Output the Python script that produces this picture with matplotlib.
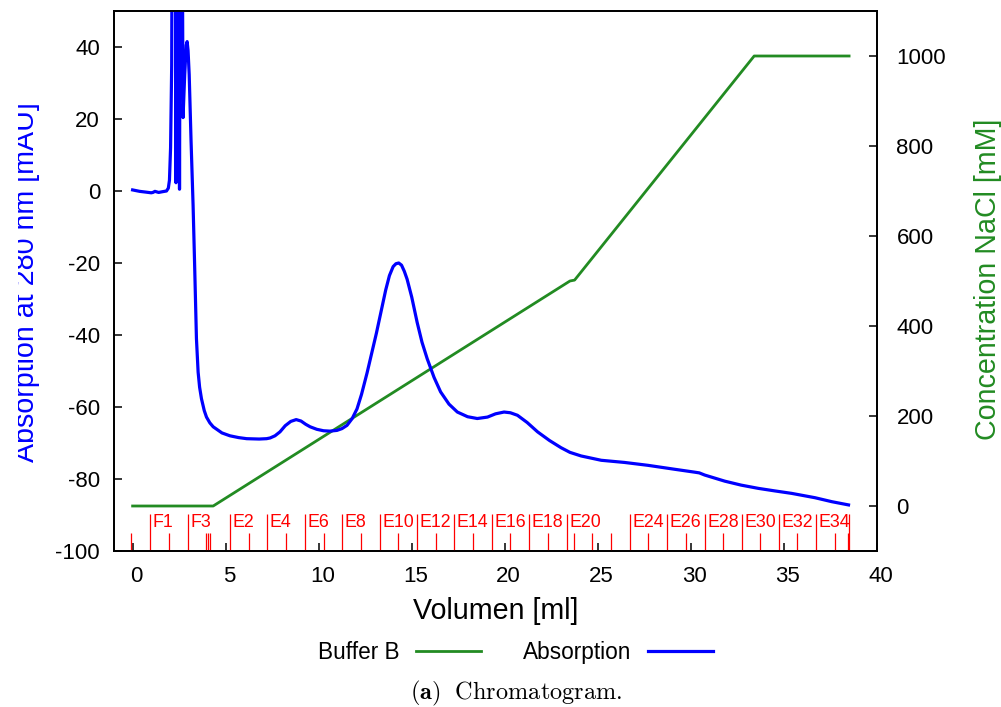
import matplotlib
matplotlib.use("Agg")
import matplotlib.pyplot as plt
from matplotlib.lines import Line2D
from matplotlib.transforms import Bbox, TransformedBbox, ScaledTranslation

plt.rcParams['font.family'] = 'Liberation Sans'
plt.rcParams['mathtext.fontset'] = 'cm'
plt.rcParams['axes.unicode_minus'] = False

# UV absorption trace (ml, mAU)
abs_x = [0, 0.38, 0.7, 1.0, 1.09, 1.2, 1.4, 1.6, 1.82, 1.92, 1.98, 2.04, 2.10, 2.14,
         2.28, 2.33, 2.38, 2.47, 2.52, 2.58, 2.64, 2.71, 2.80, 2.88, 2.93, 2.98,
         3.04, 3.14, 3.25, 3.33, 3.43, 3.52, 3.60, 3.70, 3.85, 3.97, 4.15, 4.33,
         4.8, 5.23, 5.7, 6.13, 6.8, 7.2, 7.39, 7.65, 7.92, 8.2, 8.5, 8.79, 9.05,
         9.3, 9.54, 9.9, 10.26, 10.6, 10.98, 11.25, 11.52, 11.8, 12.06, 12.3,
         12.6, 12.85, 13.1, 13.35, 13.6, 13.8, 14.0, 14.15, 14.3, 14.45, 14.6,
         14.75, 15.0, 15.29, 15.55, 15.83, 16.2, 16.55, 17.0, 17.45, 18.0, 18.52,
         19.07, 19.5, 19.96, 20.3, 20.68, 21.2, 21.76, 22.4, 23.02, 23.5, 24.1,
         25.18, 26.43, 27.69, 29.13, 30.2, 30.45, 30.74, 31.82, 32.7, 33.62,
         34.5, 35.42, 36.67, 37.57, 38.47]
abs_y = [0.3, -0.1, -0.3, -0.5, -0.4, -0.1, -0.4, -0.2, 0, 0.8, 3, 12, 35, 110,
         110, 2.3, 110, 110, 0.5, 110, 110, 20.4, 32.4, 40.5, 41.5, 39,
         32.4, 14, -4, -20, -41, -50.3, -54.5, -57.7, -61, -62.8, -64.4, -65.5,
         -67.2, -68.0, -68.5, -68.8, -68.9, -68.8, -68.6, -68.0, -66.9, -65.2,
         -64.0, -63.5, -63.9, -64.8, -65.5, -66.2, -66.6, -66.7, -66.5, -66.0,
         -65.1, -63.2, -60.5, -56.5, -50.5, -45, -39.5, -33.5, -27.5, -23.5,
         -21.0, -20.2, -20.0, -20.6, -22.3, -24.5, -29.5, -36.5, -42, -46.6,
         -51.8, -55.8, -59.2, -61.4, -62.7, -63.2, -62.8, -61.9, -61.4, -61.6,
         -62.3, -64.3, -66.9, -69.3, -71.3, -72.6, -73.6, -74.8, -75.4, -76.2,
         -77.3, -78.1, -78.3, -78.9, -80.6, -81.7, -82.6, -83.3, -84.0, -85.2,
         -86.3, -87.2]

# NaCl gradient (ml, mM)
buf_x = [0, 4.33, 23.5, 23.75, 33.4, 38.5]
buf_y = [0, 0, 500, 502, 1000, 1000]

# fraction marks
frac_lab_x = [0.95, 2.96, 5.23, 7.24, 9.26, 11.27, 13.28, 15.26, 17.27, 19.3,
              21.31, 23.33, 26.72, 28.73, 30.74, 32.74, 34.73, 36.73]
frac_lab = ['F1', 'F3', 'E2', 'E4', 'E6', 'E8', 'E10', 'E12', 'E14', 'E16',
            'E18', 'E20', 'E24', 'E26', 'E28', 'E30', 'E32', 'E34']
frac_short_x = [-0.07, 1.96, 3.94, 4.03, 4.15, 6.24, 8.25, 10.26, 12.27, 14.25,
                16.28, 18.29, 20.29, 22.3, 23.7, 24.71, 25.7, 27.72, 29.74,
                31.74, 33.73, 35.72, 37.72, 38.42]
frac_end_x = [38.47]

fig = plt.figure(figsize=(10.01, 7.07), dpi=100)
ax = fig.add_axes([114/1001, 156/707, 763/1001, 540/707])
ax2 = ax.twinx()
ax.set_zorder(ax2.get_zorder() + 1)
ax.patch.set_visible(False)

ax2.plot(buf_x, buf_y, color='#228B22', lw=2.0)
ax.plot(abs_x, abs_y, color='#0000FF', lw=2.3, solid_joinstyle='round')

red = '#FF0000'
ax.vlines(frac_lab_x + frac_end_x, -100, -89.8, color=red, lw=0.9)
ax.vlines(frac_short_x, -100, -94.9, color=red, lw=0.9)
for xv, s in zip(frac_lab_x, frac_lab):
    ax.annotate(s, (xv, -89.7), xytext=(1.8, 0), textcoords='offset points',
                ha='left', va='top', color=red, fontsize=12.8)

ax.set_xlim(-1, 40)
ax.set_ylim(-100, 50)
ax2.set_ylim(-100, 1100)
ax.set_xticks(range(0, 41, 5))
ax.set_yticks(range(-100, 41, 20))
ax2.set_yticks(range(0, 1001, 200))

for a in (ax, ax2):
    for sp in a.spines.values():
        sp.set_linewidth(1.3)
ax.tick_params(axis='both', direction='in', length=5.8, width=1.1, labelsize=16)
ax.tick_params(axis='y', pad=10)
ax.tick_params(axis='x', pad=10.5)
ax2.tick_params(axis='y', direction='in', length=5.8, width=1.1, labelsize=16, pad=14)

# x tick labels sit a few pixels right of their ticks
shift = ScaledTranslation(0.035, 0, fig.dpi_scale_trans)
for lbl in ax.get_xticklabels():
    lbl.set_transform(lbl.get_transform() + shift)

fig.text(495.5/1001, 1 - 619.3/707, 'Volumen [ml]', ha='center', va='baseline',
         fontsize=20.6)

ylab = fig.text(12.5/1001, 1 - 282/707, 'Absorption at 280 nm [mAU]', rotation=90,
                ha='left', va='center', fontsize=20.6, color='#0000FF')
ylab.set_clip_box(TransformedBbox(Bbox.from_extents(17.5/1001, 0, 1, 1), fig.transFigure))
ylab.set_clip_on(True)

fig.text(974.5/1001, 1 - 279/707, 'Concentration NaCl [mM]', rotation=90,
         ha='left', va='center', fontsize=20.6, color='#228B22')

handles = [Line2D([], [], color='#228B22', lw=2.0), Line2D([], [], color='#0000FF', lw=2.3)]
fig.legend(handles, ['Buffer B', 'Absorption'], loc='center',
           bbox_to_anchor=(515.5/1001, 1 - 652.5/707), ncol=2, markerfirst=False,
           frameon=False, fontsize=16.3, handlelength=2.88, handletextpad=0.7,
           columnspacing=1.87)

fig.text(516.5/1001, 1 - 699.5/707, r'$\mathbf{(a)}\ \ \mathrm{Chromatogram.}$',
         ha='center', va='baseline', fontsize=17.5)

fig.savefig('out.png', dpi=100)
